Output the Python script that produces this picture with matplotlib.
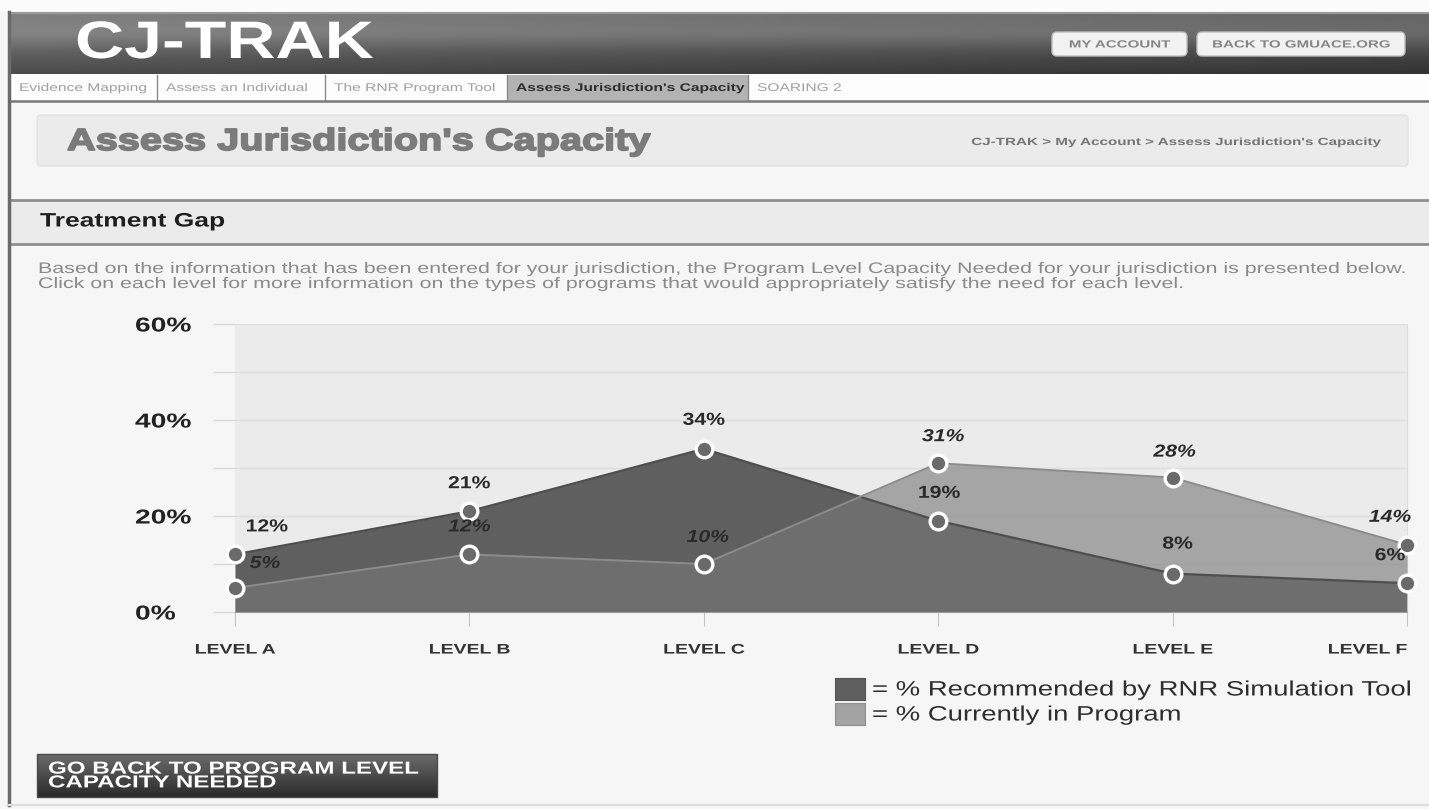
import matplotlib.pyplot as plt
from matplotlib.patches import Rectangle, FancyBboxPatch
from matplotlib.patheffects import AbstractPathEffect
from matplotlib.transforms import Affine2D
import numpy as np

# chart data
levels = ['LEVEL A', 'LEVEL B', 'LEVEL C', 'LEVEL D', 'LEVEL E', 'LEVEL F']
recommended = [12, 21, 34, 19, 8, 6]
current = [5, 12, 10, 31, 28, 14]
y_major = [0, 20, 40, 60]
y_minor = [10, 30, 50]

# page texts
tabs = ['Evidence Mapping', 'Assess an Individual', 'The RNR Program Tool',
        "Assess Jurisdiction's Capacity", 'SOARING 2']
tab_edges = [10, 157, 325, 507, 748, 1429]
legend_labels = ['= % Recommended by RNR Simulation Tool', '= % Currently in Program']

W, H = 1429, 809


class Wide(AbstractPathEffect):
    # the screenshot is stretched sideways, so stretch the glyphs about the text anchor
    def __init__(self, text, sx, lw=0):
        super().__init__()
        self.text, self.sx, self.lw = text, sx, lw

    def draw_path(self, renderer, gc, tpath, affine, rgbFace=None):
        bb = self.text.get_window_extent(renderer)
        ha = self.text.get_ha()
        x0 = {'left': bb.x0, 'center': (bb.x0 + bb.x1) / 2, 'right': bb.x1}[ha]
        t = affine + Affine2D().translate(-x0, 0).scale(self.sx, 1).translate(x0, 0)
        if self.lw:
            gc0 = renderer.new_gc()
            gc0.copy_properties(gc)
            gc0.set_linewidth(self.lw)
            gc0.set_foreground(rgbFace)
            renderer.draw_path(gc0, tpath, t, rgbFace)
            gc0.restore()
        else:
            renderer.draw_path(gc, tpath, t, rgbFace)


def widen(t, sx, lw=0):
    t.set_path_effects([Wide(t, sx, lw)])
    return t


plt.rcParams['font.family'] = ['Liberation Sans', 'DejaVu Sans']
fig = plt.figure(figsize=(W / 100, H / 100), dpi=100)
fig.patch.set_facecolor('#f6f6f6')

pg = fig.add_axes([0, 0, 1, 1])
pg.set_xlim(0, W)
pg.set_ylim(H, 0)
pg.axis('off')

# top white strip
pg.add_patch(Rectangle((0, 0), W, 12, fc='#fbfbfb', ec='none'))

# header gradient
gy = np.linspace(0, 1, 60)[:, None]
gx = np.linspace(0, 1, 200)[None, :]
grad = 0.50 - 0.20 * gy - 0.10 * gx + 0.08 * np.exp(-((gy - 0.35) ** 2) / 0.05)
pg.imshow(grad, cmap='gray', vmin=0, vmax=1, extent=(9, W, 74, 12),
          aspect='auto', zorder=1)
pg.plot([9, W], [12.5, 12.5], color='#9a9a9a', lw=1.5, zorder=2)
widen(pg.text(75, 44, 'CJ-TRAK', color='white', fontsize=38, fontweight='bold',
              va='center', ha='left', zorder=3), 1.29)

# header buttons
for x0, x1, lab in [(1052, 1187, 'MY ACCOUNT'), (1197, 1405, 'BACK TO GMUACE.ORG')]:
    pg.add_patch(FancyBboxPatch((x0, 32), x1 - x0, 24,
                                boxstyle='round,pad=0,rounding_size=5',
                                fc='#f2f2f2', ec='#bdbdbd', lw=1, zorder=3))
    widen(pg.text((x0 + x1) / 2, 44.5, lab, color='#858585', fontsize=7.5,
                  fontweight='bold', ha='center', va='center', zorder=4), 1.45)

# tab bar
pg.add_patch(Rectangle((9, 74), W - 9, 26, fc='#fdfdfd', ec='none'))
for i, lab in enumerate(tabs):
    x0, x1 = tab_edges[i], tab_edges[i + 1]
    active = i == 3
    if active:
        pg.add_patch(Rectangle((x0, 75), x1 - x0, 25, fc='#b3b3b3', ec='none'))
    if i > 0:
        pg.plot([x0, x0], [75, 100], color='#8a8a8a', lw=1)
    widen(pg.text(x0 + 9, 88, lab, fontsize=8, ha='left', va='center',
                  color='#2e2e2e' if active else '#a0a0a0',
                  fontweight='bold' if active else 'normal'), 1.4)
pg.plot([9, W], [100.5, 100.5], color='#7a7a7a', lw=1.8)

# page title box
pg.add_patch(FancyBboxPatch((37, 115), 1371, 51,
                            boxstyle='round,pad=0,rounding_size=4',
                            fc='#ebebeb', ec='#e2e2e2', lw=1))
widen(pg.text(67, 142, "Assess Jurisdiction's Capacity", fontsize=22,
              fontweight='bold', color='#7b7b7b', ha='left', va='center'), 1.3, lw=1.3)
widen(pg.text(1380, 142, "CJ-TRAK > My Account > Assess Jurisdiction's Capacity",
              fontsize=7.5, fontweight='bold', color='#757575', ha='right',
              va='center'), 1.46)

# section header
pg.add_patch(Rectangle((9, 200), W - 9, 44, fc='#ebebeb', ec='none'))
pg.plot([9, W], [200, 200], color='#8f8f8f', lw=2)
pg.plot([9, W], [244, 244], color='#8f8f8f', lw=2)
widen(pg.text(40, 222, 'Treatment Gap', fontsize=14, fontweight='bold',
              color='#1e1e1e', ha='left', va='center'), 1.36)

widen(pg.text(38, 269, 'Based on the information that has been entered for your jurisdiction, '
              'the Program Level Capacity Needed for your jurisdiction is presented below.',
              fontsize=11, color='#8a8a8a', ha='left', va='center'), 1.4)
widen(pg.text(38, 284, 'Click on each level for more information on the types of programs '
              'that would appropriately satisfy the need for each level.',
              fontsize=11, color='#8a8a8a', ha='left', va='center'), 1.4)

# left border and bottom line
pg.plot([9, 9], [12, 805], color='#6a6a6a', lw=2.5)
pg.plot([9, W], [805, 805], color='#dddddd', lw=1.5)

# chart
ax = fig.add_axes([235 / W, (H - 612) / H, (1407 - 235) / W, (612 - 324) / H])
ax.set_facecolor('#ebebeb')
x = np.arange(len(levels))
ax.fill_between(x, recommended, 0, color='#5f5f5f', lw=0, zorder=2)
ax.fill_between(x, current, 0, color='#797979', alpha=0.61, lw=0, zorder=3)
ax.plot(x, recommended, color='#4e4e4e', lw=1.6, zorder=4, clip_on=False)
ax.plot(x, current, color='#8c8c8c', lw=1.4, zorder=4, clip_on=False)
ax.plot(x, recommended, 'o', ms=12, mfc='#6a6a6a', mec='white', mew=2.4,
        zorder=6, clip_on=False)
ax.plot(x, current, 'o', ms=12, mfc='#6a6a6a', mec='white', mew=2.4,
        zorder=6, clip_on=False)

rec_off = [(32, 20), (0, 20), (0, 21), (1, 20), (5, 22), (-17, 20)]
cur_off = [(30, 17), (0, 20), (4, 19), (5, 19), (2, 18), (-17, 20)]
for i in range(len(levels)):
    widen(ax.annotate(f'{recommended[i]}%', (x[i], recommended[i]), xytext=rec_off[i],
                      textcoords='offset pixels', ha='center', va='bottom',
                      fontsize=12.5, fontweight='bold', color='#2a2a2a',
                      zorder=7, annotation_clip=False), 1.22)
    widen(ax.annotate(f'{current[i]}%', (x[i], current[i]), xytext=cur_off[i],
                      textcoords='offset pixels', ha='center', va='bottom',
                      fontsize=12.5, fontweight='bold', fontstyle='italic',
                      color='#2a2a2a', zorder=7, annotation_clip=False), 1.22)

ax.set_xlim(0, 5)
ax.set_ylim(0, 60)
ax.set_yticks(y_major)
ax.set_yticklabels([f'{v}%' for v in y_major], fontsize=14.5,
                   fontweight='bold', color='#222222', ha='left')
ax.set_yticks(y_minor, minor=True)
ax.tick_params(axis='y', which='both', direction='out', length=16,
               color='#d6d6d6', width=1, pad=56)
ax.set_xticks(x)
ax.set_xticklabels(levels, fontsize=10, fontweight='bold', color='#333333')
ax.get_xticklabels()[-1].set_ha('right')
ax.tick_params(axis='x', direction='out', length=10, color='#c4c4c4', pad=12)
for t in ax.get_yticklabels():
    widen(t, 1.4)
for t in ax.get_xticklabels():
    widen(t, 1.4)
ax.grid(axis='y', which='both', color='#dedede', lw=1, zorder=0)
ax.set_axisbelow(True)
for s in ['top', 'left']:
    ax.spines[s].set_visible(False)
ax.spines['bottom'].set_color('#aaaaaa')
ax.spines['right'].set_color('#dcdcdc')

# legend
for i, (lab, col) in enumerate(zip(legend_labels, ['#5f5f5f', '#a3a3a3'])):
    y0 = 678 + i * 25
    pg.add_patch(Rectangle((835, y0), 30, 22, fc=col,
                           ec='#555555' if i == 0 else '#8f8f8f', lw=0.8))
    widen(pg.text(872, y0 + 12, lab, fontsize=15, color='#2e2e2e',
                  ha='left', va='center'), 1.32)

# go back button
by = np.linspace(0, 1, 40)[:, None] * np.ones((1, 2))
pg.imshow(0.42 - 0.25 * by, cmap='gray', vmin=0, vmax=1,
          extent=(37, 437, 797, 754), aspect='auto', zorder=2)
pg.add_patch(Rectangle((37, 754), 400, 43, fc='none', ec='#4a4a4a', lw=1, zorder=3))
widen(pg.text(48, 776, 'GO BACK TO PROGRAM LEVEL\nCAPACITY NEEDED', fontsize=12.5,
              fontweight='bold', color='white', ha='left', va='center',
              linespacing=0.9, zorder=4), 1.39)

pg.set_xlim(0, W)
pg.set_ylim(H, 0)
fig.savefig('out.png', dpi=100, facecolor=fig.get_facecolor())
